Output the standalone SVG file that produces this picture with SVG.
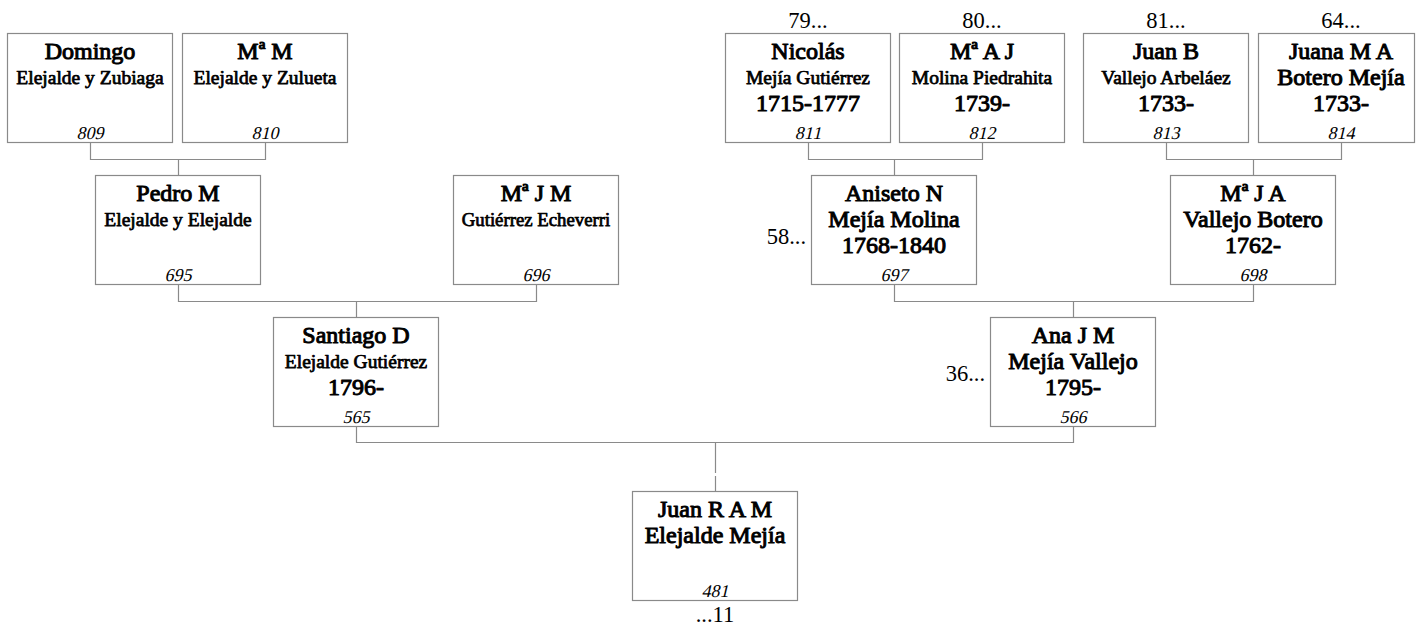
<svg xmlns="http://www.w3.org/2000/svg" width="1416" height="626" viewBox="0 0 1416 626">
<style>
.box{fill:#fff;stroke:#8a8a8a;stroke-width:1.2}
.con{fill:none;stroke:#8a8a8a;stroke-width:1.2}
.b{stroke:#000;stroke-width:1px;stroke-linejoin:round}
.s{stroke:#000;stroke-width:0.75px;stroke-linejoin:round}
</style>
<rect width="1416" height="626" fill="#fff"/>
<g id="connectors">
<path class="con" d="M90.5 143V159.5H265.5V143M178.5 159.5V175"/>
<path class="con" d="M808.5 143V159.5H982.5V143M894.5 159.5V175"/>
<path class="con" d="M1166.5 143V159.5H1341.5V143M1253.5 159.5V175"/>
<path class="con" d="M178.5 285V301.5H536.5V285M356.5 301.5V317"/>
<path class="con" d="M894.5 285V301.5H1253.5V285M1073.5 301.5V317"/>
<path class="con" d="M356.5 427V442.5H1073.5V427M715.5 442.5V473M715.5 476V491"/>
</g>
<g id="n809">
<rect class="box" x="7.5" y="33.5" width="165" height="109"/>
<text font-family="Liberation Serif" class="b" font-size="24" text-anchor="middle" x="90" y="58.5">Domingo</text>
<text font-family="Liberation Serif" class="s" font-size="19.5" text-anchor="middle" x="90" y="84">Elejalde y Zubiaga</text>
<text font-family="Liberation Serif" font-size="18" text-anchor="middle" transform="translate(90 139) skewX(-13)">809</text>
</g>
<g id="n810">
<rect class="box" x="182.5" y="33.5" width="165" height="109"/>
<text font-family="Liberation Serif" class="b" font-size="24" text-anchor="middle" x="265" y="58.5">Mª M</text>
<text font-family="Liberation Serif" class="s" font-size="19.5" text-anchor="middle" x="265" y="84">Elejalde y Zulueta</text>
<text font-family="Liberation Serif" font-size="18" text-anchor="middle" transform="translate(265 139) skewX(-13)">810</text>
</g>
<g id="n811">
<text font-family="Liberation Serif" font-size="22.5" text-anchor="middle" x="808" y="28">79...</text>
<rect class="box" x="725.5" y="33.5" width="165" height="109"/>
<text font-family="Liberation Serif" class="b" font-size="24" text-anchor="middle" x="808" y="58.5">Nicolás</text>
<text font-family="Liberation Serif" class="s" font-size="19.5" text-anchor="middle" x="808" y="84">Mejía Gutiérrez</text>
<text font-family="Liberation Serif" class="b" font-size="24" text-anchor="middle" x="808" y="111">1715-1777</text>
<text font-family="Liberation Serif" font-size="18" text-anchor="middle" transform="translate(808 139) skewX(-13)">811</text>
</g>
<g id="n812">
<text font-family="Liberation Serif" font-size="22.5" text-anchor="middle" x="982" y="28">80...</text>
<rect class="box" x="899.5" y="33.5" width="165" height="109"/>
<text font-family="Liberation Serif" class="b" font-size="24" text-anchor="middle" x="982" y="58.5">Mª A J</text>
<text font-family="Liberation Serif" class="s" font-size="19.5" text-anchor="middle" x="982" y="84">Molina Piedrahita</text>
<text font-family="Liberation Serif" class="b" font-size="24" text-anchor="middle" x="982" y="111">1739-</text>
<text font-family="Liberation Serif" font-size="18" text-anchor="middle" transform="translate(982 139) skewX(-13)">812</text>
</g>
<g id="n813">
<text font-family="Liberation Serif" font-size="22.5" text-anchor="middle" x="1166" y="28">81...</text>
<rect class="box" x="1083.5" y="33.5" width="165" height="109"/>
<text font-family="Liberation Serif" class="b" font-size="24" text-anchor="middle" x="1166" y="58.5">Juan B</text>
<text font-family="Liberation Serif" class="s" font-size="19.5" text-anchor="middle" x="1166" y="84">Vallejo Arbeláez</text>
<text font-family="Liberation Serif" class="b" font-size="24" text-anchor="middle" x="1166" y="111">1733-</text>
<text font-family="Liberation Serif" font-size="18" text-anchor="middle" transform="translate(1166 139) skewX(-13)">813</text>
</g>
<g id="n814">
<text font-family="Liberation Serif" font-size="22.5" text-anchor="middle" x="1341" y="28">64...</text>
<rect class="box" x="1258.5" y="33.5" width="156" height="109"/>
<text font-family="Liberation Serif" class="b" font-size="24" text-anchor="middle" x="1341" y="58.5">Juana M A</text>
<text font-family="Liberation Serif" class="b" font-size="24" text-anchor="middle" x="1341" y="84.5">Botero Mejía</text>
<text font-family="Liberation Serif" class="b" font-size="24" text-anchor="middle" x="1341" y="111">1733-</text>
<text font-family="Liberation Serif" font-size="18" text-anchor="middle" transform="translate(1341 139) skewX(-13)">814</text>
</g>
<g id="n695">
<rect class="box" x="95.5" y="175.5" width="165" height="109"/>
<text font-family="Liberation Serif" class="b" font-size="24" text-anchor="middle" x="178" y="200.5">Pedro M</text>
<text font-family="Liberation Serif" class="s" font-size="19.5" text-anchor="middle" x="178" y="226">Elejalde y Elejalde</text>
<text font-family="Liberation Serif" font-size="18" text-anchor="middle" transform="translate(178 281) skewX(-13)">695</text>
</g>
<g id="n696">
<rect class="box" x="453.5" y="175.5" width="165" height="109"/>
<text font-family="Liberation Serif" class="b" font-size="24" text-anchor="middle" x="536" y="200.5">Mª J M</text>
<text font-family="Liberation Serif" class="s" font-size="18.8" text-anchor="middle" x="536" y="226">Gutiérrez Echeverri</text>
<text font-family="Liberation Serif" font-size="18" text-anchor="middle" transform="translate(536 281) skewX(-13)">696</text>
</g>
<g id="n697">
<text font-family="Liberation Serif" font-size="22.5" text-anchor="end" x="806" y="244">58...</text>
<rect class="box" x="811.5" y="175.5" width="165" height="109"/>
<text font-family="Liberation Serif" class="b" font-size="24" text-anchor="middle" x="894" y="200.5">Aniseto N</text>
<text font-family="Liberation Serif" class="b" font-size="24" text-anchor="middle" x="894" y="226.5">Mejía Molina</text>
<text font-family="Liberation Serif" class="b" font-size="24" text-anchor="middle" x="894" y="253">1768-1840</text>
<text font-family="Liberation Serif" font-size="18" text-anchor="middle" transform="translate(894 281) skewX(-13)">697</text>
</g>
<g id="n698">
<rect class="box" x="1170.5" y="175.5" width="165" height="109"/>
<text font-family="Liberation Serif" class="b" font-size="24" text-anchor="middle" x="1253" y="200.5">Mª J A</text>
<text font-family="Liberation Serif" class="b" font-size="24" text-anchor="middle" x="1253" y="226.5">Vallejo Botero</text>
<text font-family="Liberation Serif" class="b" font-size="24" text-anchor="middle" x="1253" y="253">1762-</text>
<text font-family="Liberation Serif" font-size="18" text-anchor="middle" transform="translate(1253 281) skewX(-13)">698</text>
</g>
<g id="n565">
<rect class="box" x="273.5" y="317.5" width="165" height="109"/>
<text font-family="Liberation Serif" class="b" font-size="24" text-anchor="middle" x="356" y="342.5">Santiago D</text>
<text font-family="Liberation Serif" class="s" font-size="19.5" text-anchor="middle" x="356" y="368">Elejalde Gutiérrez</text>
<text font-family="Liberation Serif" class="b" font-size="24" text-anchor="middle" x="356" y="395">1796-</text>
<text font-family="Liberation Serif" font-size="18" text-anchor="middle" transform="translate(356 423) skewX(-13)">565</text>
</g>
<g id="n566">
<text font-family="Liberation Serif" font-size="22.5" text-anchor="end" x="985" y="381">36...</text>
<rect class="box" x="990.5" y="317.5" width="165" height="109"/>
<text font-family="Liberation Serif" class="b" font-size="24" text-anchor="middle" x="1073" y="342.5">Ana J M</text>
<text font-family="Liberation Serif" class="b" font-size="24" text-anchor="middle" x="1073" y="368.5">Mejía Vallejo</text>
<text font-family="Liberation Serif" class="b" font-size="24" text-anchor="middle" x="1073" y="395">1795-</text>
<text font-family="Liberation Serif" font-size="18" text-anchor="middle" transform="translate(1073 423) skewX(-13)">566</text>
</g>
<g id="n481">
<rect class="box" x="632.5" y="491.5" width="165" height="109"/>
<text font-family="Liberation Serif" class="b" font-size="24" text-anchor="middle" x="715" y="516.5">Juan R A M</text>
<text font-family="Liberation Serif" class="b" font-size="24" text-anchor="middle" x="715" y="542.5">Elejalde Mejía</text>
<text font-family="Liberation Serif" font-size="18" text-anchor="middle" transform="translate(715 597) skewX(-13)">481</text>
<text font-family="Liberation Serif" font-size="22.5" text-anchor="middle" x="715" y="622">...11</text>
</g>
</svg>
